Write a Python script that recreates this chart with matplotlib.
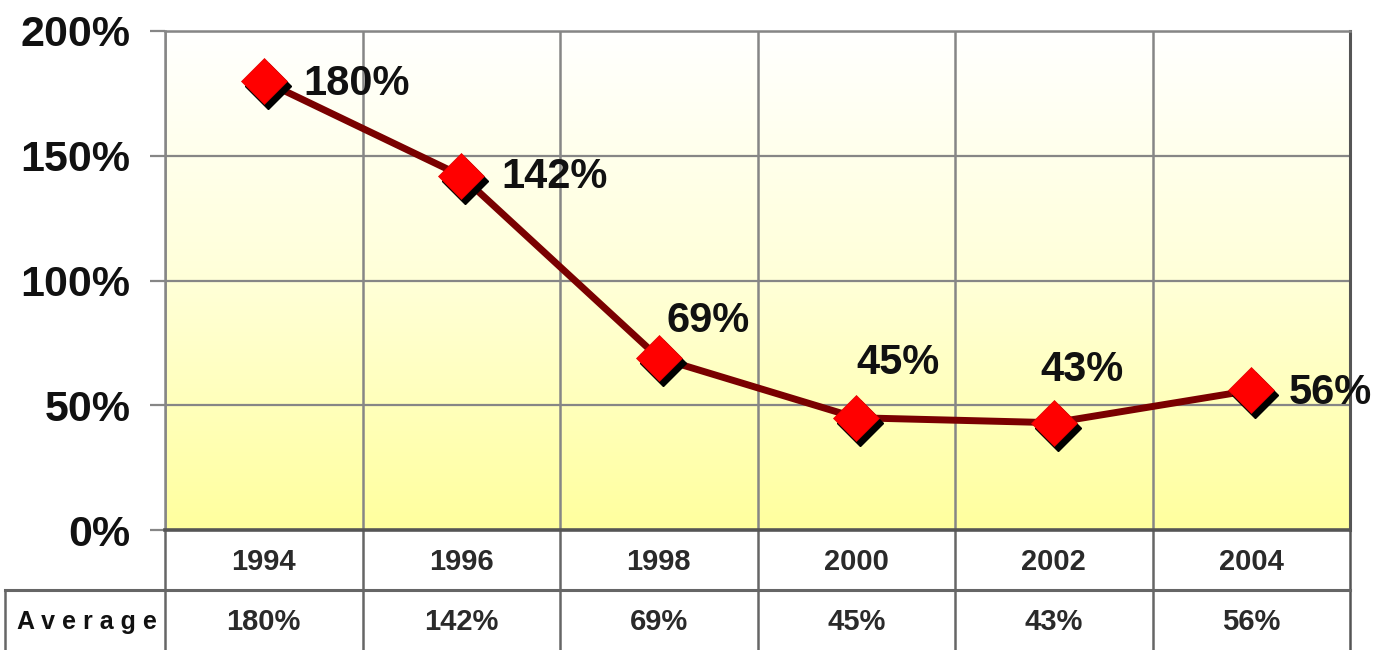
import numpy as np
import matplotlib
matplotlib.use("Agg")
import matplotlib.pyplot as plt
from matplotlib.colors import LinearSegmentedColormap
import matplotlib.transforms as mtransforms

years = ["1994", "1996", "1998", "2000", "2002", "2004"]
values = [180, 142, 69, 45, 43, 56]
row_label = "Average"
yticks = [0, 50, 100, 150, 200]

# label offsets (pixels) relative to each marker
label_offsets = [(40, -3), (40, -1), (8, 37), (0, 55), (-13, 53), (37, -3)]

plt.rcParams['font.family'] = ['Liberation Sans', 'DejaVu Sans']

W, H = 1380, 650
fig = plt.figure(figsize=(W / 100, H / 100), dpi=100)
L, R, T, B = 165, 1350, 31, 530
ax = fig.add_axes([L / W, 1 - B / H, (R - L) / W, (B - T) / H])

x = np.arange(len(years))
ax.set_xlim(-0.5, len(years) - 0.5)
ax.set_ylim(0, 200)

# gradient background
cmap = LinearSegmentedColormap.from_list("bg", ["#FFFF9E", "#FFFFD8", "#FFFFFF"])
grad = np.linspace(0, 1, 256).reshape(-1, 1)
ax.imshow(grad, extent=[-0.5, len(years) - 0.5, 0, 200], origin="lower",
          aspect="auto", cmap=cmap, zorder=0)

# grid
grid_c = "#868686"
for yv in yticks[1:]:
    ax.axhline(yv, color=grid_c, lw=1.6, zorder=1)
for xv in np.arange(-0.5, len(years) - 0.5 + 0.01, 1.0):
    ax.axvline(xv, color=grid_c, lw=1.8, zorder=1)

# line and markers
ax.plot(x, values, color="#7A0000", lw=5, zorder=3, solid_capstyle="round")
shadow = mtransforms.offset_copy(ax.transData, fig=fig, x=4, y=-5, units="dots")
ax.plot(x, values, linestyle="none", marker="D", ms=23, color="black",
        transform=shadow, zorder=4)
ax.plot(x, values, linestyle="none", marker="D", ms=23, color="#FF0000",
        markeredgecolor="#E00000", markeredgewidth=0.5, zorder=5)

for xi, v, (dx, dy) in zip(x, values, label_offsets):
    ax.annotate(f"{v}%", (xi, v), xytext=(dx, dy), textcoords="offset pixels",
                ha="left", va="center", fontsize=30, fontweight="bold",
                color="#111111", zorder=6)

# axes styling
ax.set_yticks(yticks)
ax.set_yticklabels([f"{t}%" for t in yticks], fontsize=31, fontweight="bold",
                   color="#111111")
ax.tick_params(axis="y", length=11, width=1.6, color=grid_c, pad=14)
ax.set_xticks([])
for s in ["top", "left"]:
    ax.spines[s].set_color(grid_c)
    ax.spines[s].set_linewidth(1.8)
ax.spines["right"].set_color("#555555")
ax.spines["right"].set_linewidth(2.2)
ax.spines["bottom"].set_color("#555555")
ax.spines["bottom"].set_linewidth(2.6)

# table below the axes (axes-x data / axes-y fraction)
tr = mtransforms.blended_transform_factory(ax.transData, ax.transAxes)
ph = B - T
r1 = -(590 - B) / ph
r2 = -(H - B) / ph
tcol = "#666666"
for xv in np.arange(-0.5, len(years) - 0.5 + 0.01, 1.0):
    c = "#555555" if xv > len(years) - 1 else tcol
    ax.plot([xv, xv], [0, r2], transform=tr, color=c, lw=1.8, clip_on=False)
x_left_data = ax.transData.inverted().transform((5, 0))[0]
ax.plot([x_left_data, len(years) - 0.5], [r1, r1], transform=tr, color=tcol,
        lw=2.2, clip_on=False)
ax.plot([x_left_data, x_left_data], [r1, r2], transform=tr, color=tcol,
        lw=1.8, clip_on=False)

tbl_kw = dict(transform=tr, ha="center", va="center", fontsize=21,
              fontweight="bold", color="#2a2a2a")
for xi, yr, v in zip(x, years, values):
    ax.text(xi, (0 + r1) / 2 - 0.005, yr, **tbl_kw)
    ax.text(xi, (r1 + r2) / 2 - 0.005, f"{v}%", **tbl_kw)
ax.text((x_left_data - 0.5) / 2 + 0.01, (r1 + r2) / 2 - 0.005, " ".join(list(row_label)),
        transform=tr, ha="center", va="center", fontsize=18, fontweight="bold",
        color="#111111")

fig.savefig("out.png", dpi=100, facecolor="white")
